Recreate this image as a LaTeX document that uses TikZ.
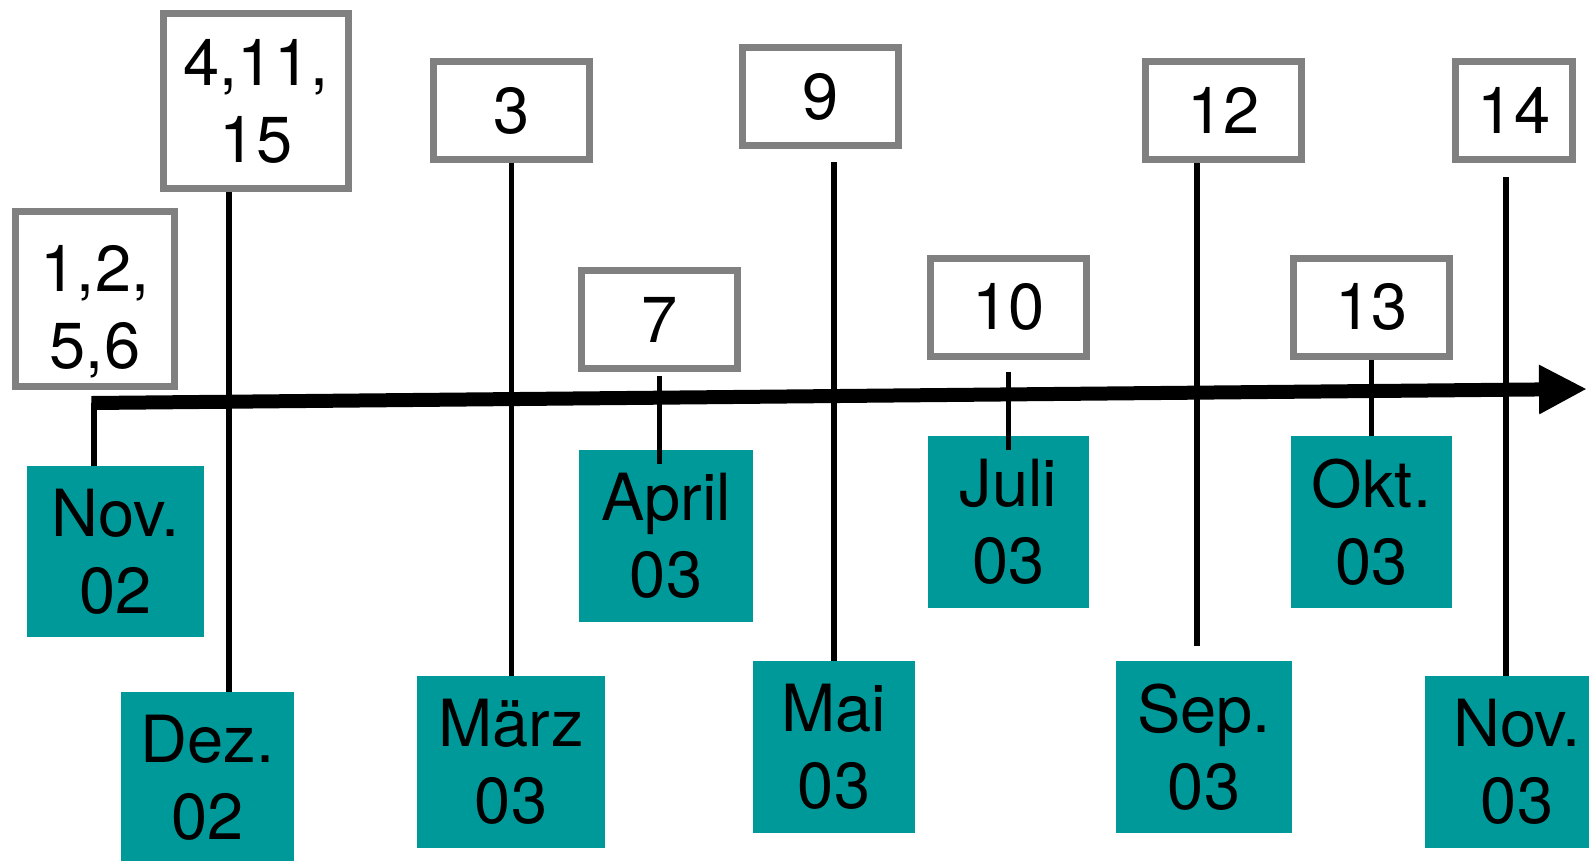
\documentclass[tikz,border=0pt]{standalone}
\usepackage{fontspec}
\setmainfont{TeX Gyre Heros}
\usetikzlibrary{arrows.meta}
\definecolor{boxgray}{RGB}{128,128,128}
\definecolor{monthteal}{RGB}{0,153,153}
\tikzset{
  labelfont/.style={font=\fontsize{65}{77}\selectfont},
  numbox/.style={labelfont, draw=boxgray, line width=7pt, fill=white,
    inner sep=0pt, align=center, minimum width=156pt, minimum height=98pt},
  monthbox/.style={labelfont, fill=monthteal, text=black, inner sep=0pt,
    align=center, minimum height=172pt},
  stem/.style={line width=5.8pt, line cap=butt},
  axisline/.style={line width=14pt, line cap=butt,
    -{Triangle[length=48pt,width=46pt]}}
}
\begin{document}
\begin{tikzpicture}[x=1pt, y=-1pt]
\useasboundingbox (0,0) rectangle (1589,860);
\clip (0,0) rectangle (1589,860);

% month boxes below the time axis
\node[monthbox, minimum width=177pt, minimum height=171pt] (t1)  at (115.5,551.5) {Nov.\\02};
\node[monthbox, minimum width=173pt] (t2)  at (207.5,778)   {Dez.\\02};
\node[monthbox, minimum width=188pt] (t3)  at (511,762)     {März\\03};
\node[monthbox, minimum width=174pt] (t7)  at (666,536)     {April\\03};
\node[monthbox, minimum width=162pt] (t9)  at (834,747)     {Mai\\03};
\node[monthbox, minimum width=161pt] (t10) at (1008.5,522)  {Juli\\03};
\node[monthbox, minimum width=176pt] (t12) at (1204,747)    {Sep.\\03};
\node[monthbox, minimum width=161pt] (t13) at (1371.5,522)  {Okt.\\03};
\node[monthbox, minimum width=184pt] (t14) at (1517,762)    {Nov.\\03};

% numbered boxes above the time axis
\node[numbox, minimum width=159pt, minimum height=175pt] (g1) at (95,299)  {\rule{0pt}{71pt}1,2,\\5,6};
\node[numbox, minimum width=185pt, minimum height=175pt] (g2) at (256,101) {4,11,\\15};
\node[numbox] (g3)  at (511.5,110.5)  {3};
\node[numbox] (g7)  at (659.5,319.5)  {7};
\node[numbox] (g9)  at (820.5,96.5)   {9};
\node[numbox] (g10) at (1008.5,307)   {10};
\node[numbox] (g12) at (1223.5,110.5) {12};
\node[numbox] (g13) at (1371.5,307)   {13};
\node[numbox, minimum width=117pt] (g14) at (1514,110.5) {14};

% stem positions that are off the box centres
\coordinate (ax0) at (94,403);
\coordinate (ax1) at (1587,389);
\coordinate (s2)  at ([xshift=21.5pt]t2.north);
\coordinate (s12) at ([xshift=-7pt]t12.north);
\coordinate (s14) at ([xshift=-11pt]t14.north);

% stems
\draw[stem] (ax0) -- (ax0 |- t1.north);
\draw[stem] (s2 |- g2.south) -- (s2);
\draw[stem] (g3.south) -- (g3.south |- t3.north);
\draw[stem, shorten <=4pt, shorten >=-14pt] (g7.south) -- (g7.south |- t7.north);
\draw[stem, shorten <=13pt] (t9.north |- g9.south) -- (t9.north);
\draw[stem, shorten <=12pt, shorten >=-14pt] (g10.south) -- (g10.south |- t10.north);
\draw[stem, shorten >=15pt] (s12 |- g12.south) -- (s12);
\draw[stem] (g13.south) -- (g13.south |- t13.north);
\draw[stem, shorten <=14pt] (s14 |- g14.south) -- (s14);

% time axis
\draw[axisline] ([xshift=-2.5pt]ax0) -- (ax1);
\end{tikzpicture}
\end{document}
